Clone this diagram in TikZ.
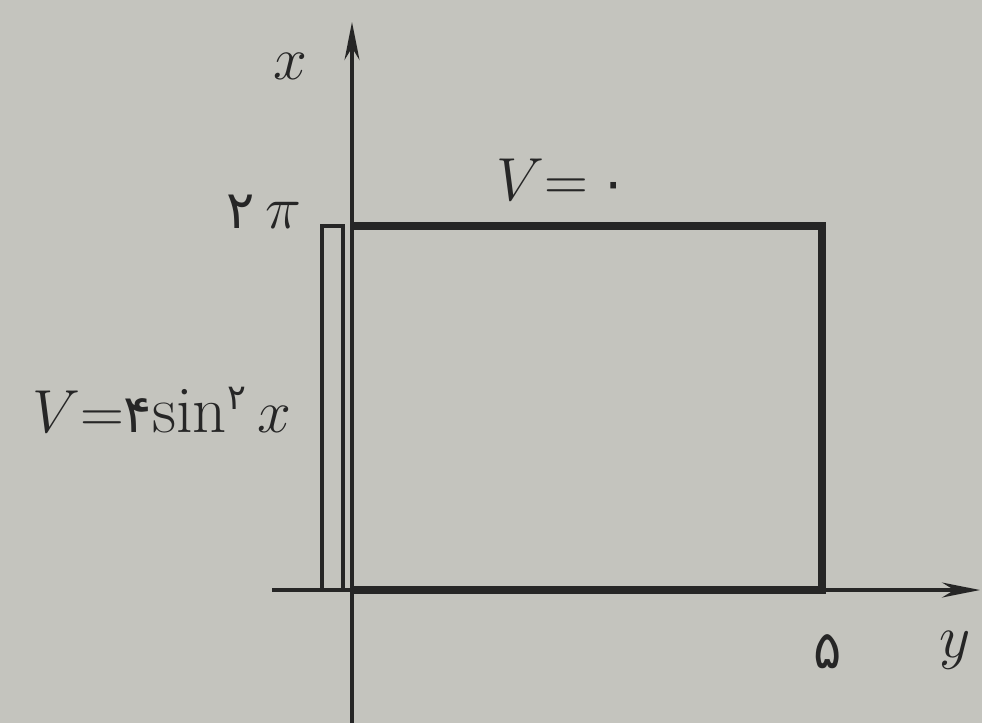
\documentclass[tikz,border=0pt]{standalone}
\usepackage{fontspec}
\newfontfamily\fa{DejaVu Sans}
\usetikzlibrary{arrows.meta}
\definecolor{paper}{RGB}{196,196,190}
\definecolor{ink}{RGB}{38,38,38}
\newcommand{\fadig}[1]{{\fa\fontsize{15}{18}\selectfont #1}}
\begin{document}
\begin{tikzpicture}[x=0.01cm,y=-0.01cm,
  axis/.style={draw=ink,line width=0.95pt,-{Stealth[length=0.38cm,width=0.15cm]}},
  edge/.style={draw=ink,line width=2.4pt,line join=miter},
  thinbox/.style={draw=ink,line width=1.1pt},
  lbl/.style={text=ink,font=\fontsize{19}{22}\selectfont,inner sep=0pt}]
\fill[paper] (0,0) rectangle (982,723);
\useasboundingbox (0,0) rectangle (982,723);
% axes
\coordinate (bot) at (352,723);
\coordinate (xend) at (352,22);
\coordinate (ystart) at (272,590);
\coordinate (yend) at (980,590);
\draw[axis] (bot) -- (xend);
\draw[axis] (ystart) -- (yend);
% main rectangle
\coordinate (tl) at (354,226);
\coordinate (tr) at (822,226);
\coordinate (br) at (822,590);
\coordinate (bl) at (354,590);
\draw[edge] (tl) -- (tr) -- (br) -- (bl);
% thin strip
\coordinate (a1) at (322,590);
\coordinate (a2) at (322,226);
\coordinate (a3) at (343,226);
\coordinate (a4) at (343,590);
\draw[thinbox] (a1) -- (a2) -- (a3) -- (a4);
% labels
\node[lbl] (lx) at (290,66) {$x$};
\node[lbl] (ltwopi) at (264,212) {\fadig{۲}\,$\pi$};
\node[lbl] (ltop) at (562,180) {$V{=}$\,\fadig{۰}};
\node[lbl] (lleft) at (162,410) {$V{=}$\fadig{۴}$\mathrm{sin}^{\hbox{\fa\fontsize{10}{12}\selectfont ۲}}\,x$};
\node[lbl] (lfive) at (828,652) {\fadig{۵}};
\node[lbl] (ly) at (955,650) {$y$};
\end{tikzpicture}
\end{document}
